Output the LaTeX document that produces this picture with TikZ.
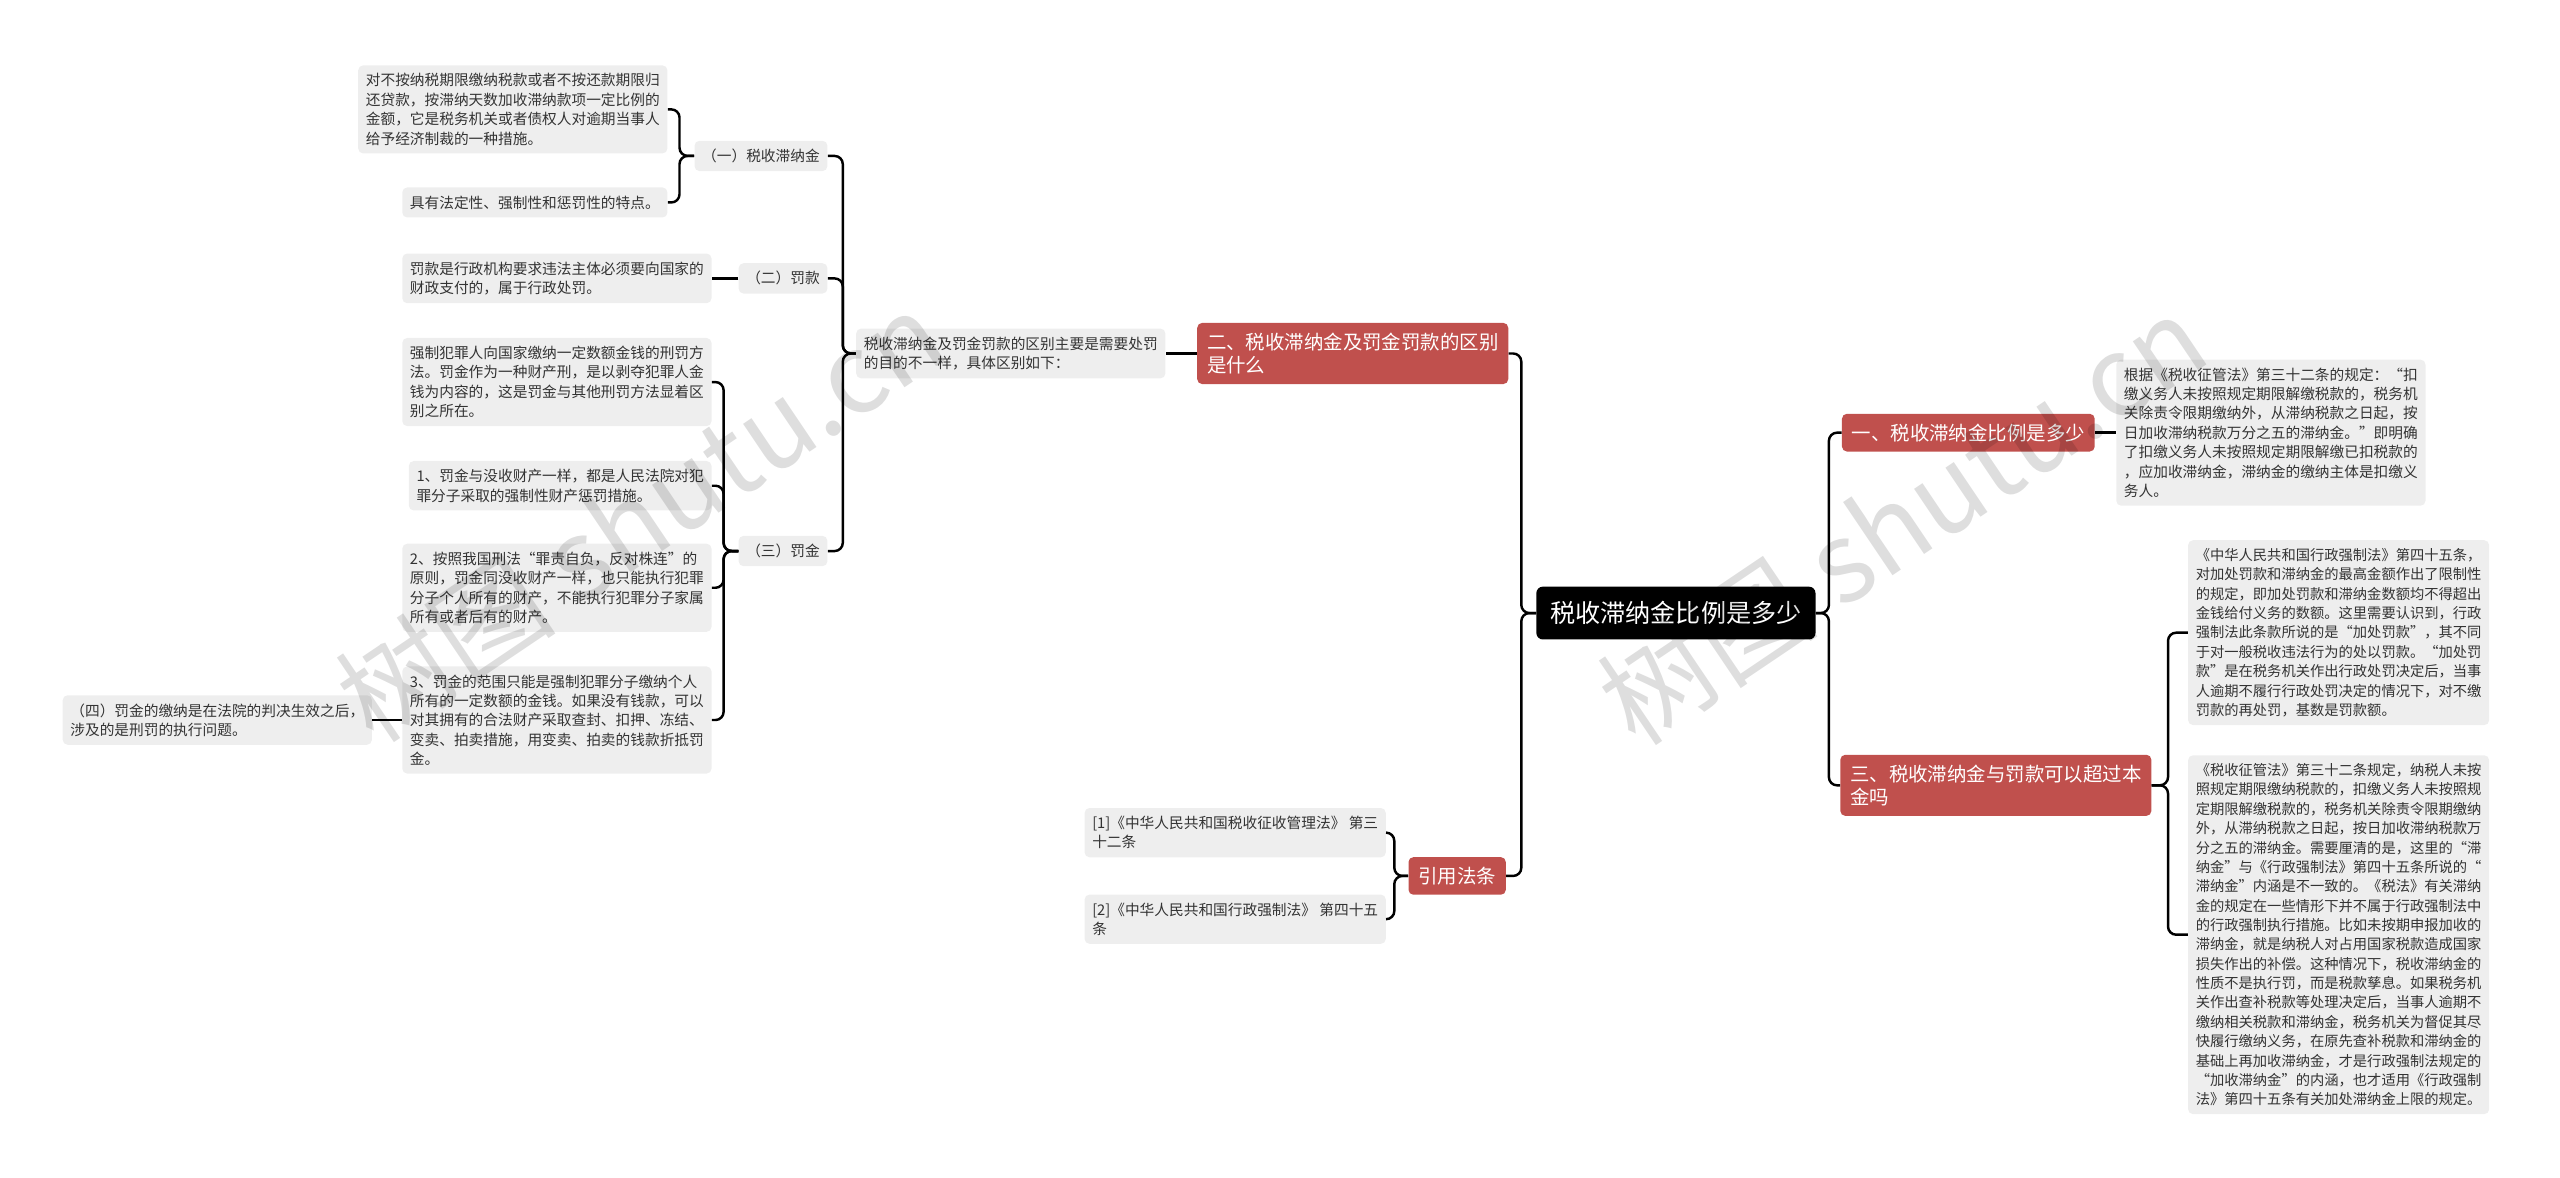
\documentclass[tikz,border=0pt]{standalone}
\usepackage{fontspec}
\setmainfont{Noto Sans CJK SC}
\definecolor{boxgray}{HTML}{EEEEEE}
\definecolor{redc}{HTML}{C0504D}
\definecolor{txt}{HTML}{333333}
\begin{document}
\begin{tikzpicture}[x=1pt,y=-1pt,
  gbox/.style={fill=boxgray, text=txt, rounded corners=3pt, inner xsep=4.7pt, inner ysep=5pt, align=left, font=\fontsize{9}{11.86}\selectfont},
  gboxs/.style={gbox, font=\fontsize{8.75}{11.86}\selectfont},
  rbox/.style={fill=redc, text=white, rounded corners=3pt, inner xsep=6pt, inner ysep=6pt, align=left, font=\fontsize{11.9}{14.4}\selectfont},
  rootbox/.style={fill=black, text=white, rounded corners=4pt, inner xsep=8.5pt, inner ysep=9pt, font=\fontsize{15.4}{18}\selectfont},
  conn/.style={draw=black, line width=1.5pt, rounded corners=5pt},
  wmark/.style={text=black, opacity=0.13, rotate=34, font=\fontsize{68}{68}\selectfont}
]
\path[use as bounding box] (0,0) rectangle (1568,721);

% root and main branches
\node[rootbox] (root) at (1026.5,375.5) {税收滞纳金比例是多少};
\node[rbox, anchor=east] (R2) at (924,216.5) {二、税收滞纳金及罚金罚款的区别\\是什么};
\node[rbox, anchor=east] (cite) at (922.5,536.5) {引用法条};
\node[rbox, anchor=west] (R1) at (1128,265) {一、税收滞纳金比例是多少};
\node[rbox, anchor=west] (R3) at (1127,481) {三、税收滞纳金与罚款可以超过本\\金吗};

% left subtree
\node[gbox, anchor=east] (qb) at (714,216.5) {税收滞纳金及罚金罚款的区别主要是需要处罚\\的目的不一样，具体区别如下：};
\node[gbox, anchor=east] (n1) at (507,95.5) {（一）税收滞纳金};
\node[gbox, anchor=east] (n2) at (507,170.5) {（二）罚款};
\node[gbox, anchor=east] (n3) at (507,337.5) {（三）罚金};
\node[gbox, anchor=east] (La) at (409,67) {对不按纳税期限缴纳税款或者不按还款期限归\\还贷款，按滞纳天数加收滞纳款项一定比例的\\金额，它是税务机关或者债权人对逾期当事人\\给予经济制裁的一种措施。};
\node[gbox, anchor=east] (Lb) at (409,124) {具有法定性、强制性和惩罚性的特点。};
\node[gbox, anchor=east] (Lf) at (436,170.5) {罚款是行政机构要求违法主体必须要向国家的\\财政支付的，属于行政处罚。};
\node[gbox, anchor=east] (Lq1) at (436,234) {强制犯罪人向国家缴纳一定数额金钱的刑罚方\\法。罚金作为一种财产刑，是以剥夺犯罪人金\\钱为内容的，这是罚金与其他刑罚方法显着区\\别之所在。};
\node[gbox, anchor=east] (Lq2) at (436,297.5) {1、罚金与没收财产一样，都是人民法院对犯\\罪分子采取的强制性财产惩罚措施。};
\node[gbox, anchor=east] (Lq3) at (436,360) {2、按照我国刑法“罪责自负，反对株连”的\\原则，罚金同没收财产一样，也只能执行犯罪\\分子个人所有的财产，不能执行犯罪分子家属\\所有或者后有的财产。};
\node[gbox, anchor=east] (Lq4) at (436,441) {3、罚金的范围只能是强制犯罪分子缴纳个人\\所有的一定数额的金钱。如果没有钱款，可以\\对其拥有的合法财产采取查封、扣押、冻结、\\变卖、拍卖措施，用变卖、拍卖的钱款折抵罚\\金。};
\node[gbox, anchor=east] (L4) at (228,441) {（四）罚金的缴纳是在法院的判决生效之后，\\涉及的是刑罚的执行问题。};

% citations
\node[gbox, anchor=east] (c1) at (849,510) {[1]《中华人民共和国税收征收管理法》 第三\\十二条};
\node[gbox, anchor=east] (c2) at (849,563) {[2]《中华人民共和国行政强制法》 第四十五\\条};

% right subtree
\node[gbox, anchor=west] (gA) at (1296,265) {根据《税收征管法》第三十二条的规定：“扣\\缴义务人未按照规定期限解缴税款的，税务机\\关除责令限期缴纳外，从滞纳税款之日起，按\\日加收滞纳税款万分之五的滞纳金。”即明确\\了扣缴义务人未按照规定期限解缴已扣税款的\\，应加收滞纳金，滞纳金的缴纳主体是扣缴义\\务人。};
\node[gboxs, anchor=west] (gB) at (1340,387.5) {《中华人民共和国行政强制法》第四十五条，\\对加处罚款和滞纳金的最高金额作出了限制性\\的规定，即加处罚款和滞纳金数额均不得超出\\金钱给付义务的数额。这里需要认识到，行政\\强制法此条款所说的是“加处罚款”，其不同\\于对一般税收违法行为的处以罚款。“加处罚\\款”是在税务机关作出行政处罚决定后，当事\\人逾期不履行行政处罚决定的情况下，对不缴\\罚款的再处罚，基数是罚款额。};
\node[gboxs, anchor=west] (gC) at (1340,572.5) {《税收征管法》第三十二条规定，纳税人未按\\照规定期限缴纳税款的，扣缴义务人未按照规\\定期限解缴税款的，税务机关除责令限期缴纳\\外，从滞纳税款之日起，按日加收滞纳税款万\\分之五的滞纳金。需要厘清的是，这里的“滞\\纳金”与《行政强制法》第四十五条所说的“\\滞纳金”内涵是不一致的。《税法》有关滞纳\\金的规定在一些情形下并不属于行政强制法中\\的行政强制执行措施。比如未按期申报加收的\\滞纳金，就是纳税人对占用国家税款造成国家\\损失作出的补偿。这种情况下，税收滞纳金的\\性质不是执行罚，而是税款孳息。如果税务机\\关作出查补税款等处理决定后，当事人逾期不\\缴纳相关税款和滞纳金，税务机关为督促其尽\\快履行缴纳义务，在原先查补税款和滞纳金的\\基础上再加收滞纳金，才是行政强制法规定的\\“加收滞纳金”的内涵，也才适用《行政强制\\法》第四十五条有关加处滞纳金上限的规定。};

% connectors
\draw[conn] (root.west) -- ++(-9,0) |- (R2.east);
\draw[conn] (root.west) -- ++(-9,0) |- (cite.east);
\draw[conn] (root.east) -- ++(8,0) |- (R1.west);
\draw[conn] (root.east) -- ++(8,0) |- (R3.west);
\draw[conn] (R2.west) -- (qb.east);
\draw[conn] (qb.west) -- ++(-8,0) |- (n1.east);
\draw[conn] (qb.west) -- ++(-8,0) |- (n2.east);
\draw[conn] (qb.west) -- ++(-8,0) |- (n3.east);
\draw[conn] (n1.west) -- ++(-9,0) |- (La.east);
\draw[conn] (n1.west) -- ++(-9,0) |- (Lb.east);
\draw[conn] (n2.west) -- (Lf.east);
\draw[conn] (n3.west) -- ++(-9,0) |- (Lq1.east);
\draw[conn] (n3.west) -- ++(-9,0) |- (Lq2.east);
\draw[conn] (n3.west) -- ++(-9,0) |- (Lq3.east);
\draw[conn] (n3.west) -- ++(-9,0) |- (Lq4.east);
\draw[conn] (Lq4.west) -- (L4.east);
\draw[conn] (cite.west) -- ++(-8.5,0) |- (c1.east);
\draw[conn] (cite.west) -- ++(-8.5,0) |- (c2.east);
\draw[conn] (R1.east) -- (gA.west);
\draw[conn] (R3.east) -- ++(10,0) |- (gB.west);
\draw[conn] (R3.east) -- ++(10,0) |- (gC.west);

% watermarks
\node[wmark] (wm1) at (392,316) {树图 shutu.cn};
\node[wmark] (wm2) at (1165,318) {树图 shutu.cn};
\end{tikzpicture}
\end{document}
